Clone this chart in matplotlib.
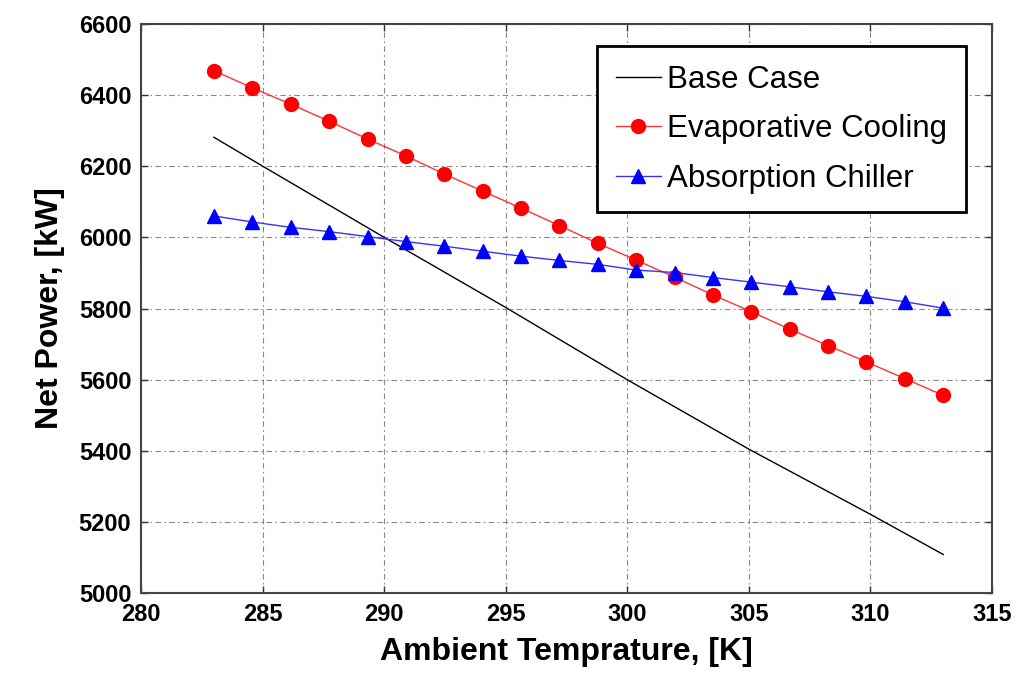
import matplotlib
matplotlib.use("Agg")
import matplotlib.pyplot as plt

# ---- data ----
temps = [283.0, 284.58, 286.16, 287.74, 289.32, 290.89, 292.47, 294.05, 295.63, 297.21,
         298.79, 300.37, 301.95, 303.53, 305.11, 306.68, 308.26, 309.84, 311.42, 313.0]
evap_cooling = [6468, 6420, 6374, 6326, 6276, 6229, 6178, 6130, 6082, 6033,
                5983, 5936, 5888, 5838, 5791, 5742, 5696, 5650, 5603, 5556]
absorption_chiller = [6060, 6043, 6028, 6016, 6002, 5988, 5975, 5961, 5947, 5935,
                      5924, 5908, 5901, 5887, 5874, 5861, 5847, 5834, 5819, 5801]
base_temps = [283, 285, 290, 295, 300, 305, 310, 313]
base_case = [6281, 6200, 6000, 5803, 5600, 5405, 5222, 5109]

x_ticks = [280, 285, 290, 295, 300, 305, 310, 315]
y_ticks = [5000, 5200, 5400, 5600, 5800, 6000, 6200, 6400, 6600]

plt.rcParams['font.family'] = ['Liberation Sans', 'DejaVu Sans']

fig = plt.figure(figsize=(10.19, 6.8), dpi=100)
ax = fig.add_axes([0.1384, 0.1275, 0.835, 0.8376])

ax.plot(base_temps, base_case, color='black', lw=1.0, label='Base Case')
ax.plot(temps, evap_cooling, color='#ff3333', lw=1.0, marker='o', markersize=10,
        markerfacecolor='red', markeredgecolor='red', label='Evaporative Cooling')
ax.plot(temps, absorption_chiller, color='#3333ff', lw=1.0, marker='^', markersize=10,
        markerfacecolor='blue', markeredgecolor='blue', label='Absorption Chiller')

ax.set_xlim(280, 315)
ax.set_ylim(5000, 6600)
ax.set_xticks(x_ticks)
ax.set_yticks(y_ticks)
ax.set_xticklabels([str(v) for v in x_ticks], fontsize=17, fontweight='bold')
ax.set_yticklabels([str(v) for v in y_ticks], fontsize=17, fontweight='bold')
ax.tick_params(direction='in', length=5, width=1, top=True, right=True, color='#333333', pad=7)

ax.grid(True, color='#888888', lw=0.8, linestyle=(0, (5, 3, 1.5, 3)))
for s in ax.spines.values():
    s.set_color('#444444')
    s.set_linewidth(1.5)

ax.set_xlabel('Ambient Temprature, [K]', fontsize=23, fontweight='bold', labelpad=8)
ax.set_ylabel('Net Power, [kW]', fontsize=23, fontweight='bold', labelpad=10)

leg = ax.legend(loc='upper right', bbox_to_anchor=(0.9694, 0.9608), borderaxespad=0,
                fontsize=22.5, frameon=True, fancybox=False, framealpha=1,
                edgecolor='black', handlelength=1.45, handletextpad=0.2,
                labelspacing=0.62, borderpad=0.6)
leg.get_frame().set_linewidth(2)

fig.savefig('out.png', dpi=100)
